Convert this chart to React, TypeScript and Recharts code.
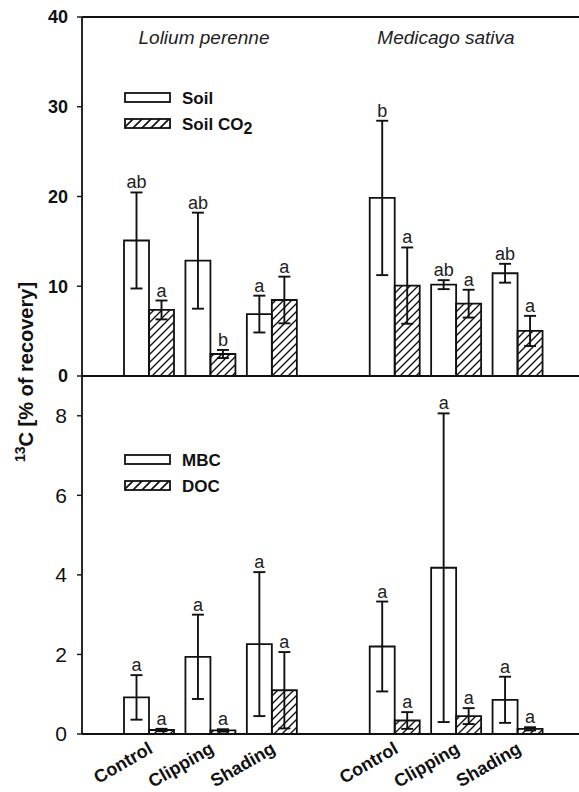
import React from "react";
import { BarChart, Bar, XAxis, YAxis, ErrorBar, LabelList, ReferenceLine, Legend } from "recharts";

const FONT = "'Liberation Sans', Arial, sans-serif";

// categories (empty slot separates the two species)
const treatments = ["Control", "Clipping", "Shading", "", "Control", "Clipping", "Shading"];

// upper panel
const soil = [15.1, 12.85, 6.9, null, 19.84, 10.18, 11.45];
const soilErr = [5.35, 5.35, 2.05, null, 8.6, 0.5, 1.05];
const soilLbl = ["ab", "ab", "a", "", "b", "ab", "ab"];
const co2 = [7.36, 2.45, 8.47, null, 10.07, 8.06, 5.02];
const co2Err = [1.05, 0.45, 2.6, null, 4.25, 1.55, 1.68];
const co2Lbl = ["a", "b", "a", "", "a", "a", "a"];

// lower panel
const mbc = [0.92, 1.94, 2.26, null, 2.2, 4.18, 0.86];
const mbcErr = [0.56, 1.06, 1.81, null, 1.13, 3.88, 0.58];
const mbcLbl = ["a", "a", "a", "", "a", "a", "a"];
const doc = [0.1, 0.09, 1.1, null, 0.34, 0.45, 0.13];
const docErr = [0.03, 0.03, 0.96, null, 0.21, 0.2, 0.04];
const docLbl = ["a", "a", "a", "", "a", "a", "a"];

const topTicks = [0, 10, 20, 30, 40];
const bottomTicks = [0, 2, 4, 6, 8];

const topData = treatments.map((name, i) => ({
  name,
  soil: soil[i],
  soilErr: soilErr[i],
  soilLbl: soilLbl[i],
  co2: co2[i],
  co2Err: co2Err[i],
  co2Lbl: co2Lbl[i],
}));

const bottomData = treatments.map((name, i) => ({
  name,
  mbc: mbc[i],
  mbcErr: mbcErr[i],
  mbcLbl: mbcLbl[i],
  doc: doc[i],
  docErr: docErr[i],
  docLbl: docLbl[i],
}));

// label key packs letter|error|value so the content can place it above the error cap
const lblKey = (k: string) => (d: any) => (d[k] == null ? "" : `${d[k + "Lbl"]}|${d[k + "Err"]}|${d[k]}`);

const SigLabel = (p: any) => {
  if (!p.value) return null;
  const [t, es, vs] = String(p.value).split("|");
  const e = Number(es), v = Number(vs);
  if (!t || !v) return null;
  const vb = p.viewBox && p.viewBox.height != null ? p.viewBox : p;
  const x = Number(vb.x), y = Number(vb.y), w = Number(vb.width), h = Number(vb.height);
  const top = y - (e * h) / v;
  return (
    <text x={x + w / 2} y={top - 4} textAnchor="middle" fontFamily={FONT} fontSize={18} fill="#222">
      {t}
    </text>
  );
};

const XTick = ({ x, y, payload }: any) => {
  if (!payload || !payload.value) return null;
  return (
    <text
      transform={`translate(${x + 5},${y + 16}) rotate(-30)`}
      textAnchor="end"
      fontFamily={FONT}
      fontWeight="bold"
      fontSize={18}
      fill="#111"
    >
      {payload.value}
    </text>
  );
};

const LegendBox = ({ names, sub }: { names: string[]; sub?: boolean }) => (
  <svg width={170} height={44} style={{ display: "block", overflow: "visible" }}>
    <defs>
      <pattern id={"lh" + names[0]} patternUnits="userSpaceOnUse" width={9} height={9}>
        <path d="M0,9 L9,0 M-3,3 L3,-3 M6,12 L12,6" stroke="#111" strokeWidth={1.7} />
      </pattern>
    </defs>
    <rect x={1} y={1} width={45} height={9} fill="#fff" stroke="#111" strokeWidth={1.8} />
    <text x={58} y={12} fontFamily={FONT} fontWeight="bold" fontSize={17} fill="#111">
      {names[0]}
    </text>
    <rect x={1} y={27} width={45} height={9} fill={`url(#lh${names[0]})`} stroke="#111" strokeWidth={1.8} />
    <text x={58} y={38} fontFamily={FONT} fontWeight="bold" fontSize={17} fill="#111">
      {names[1]}
      {sub && (
        <tspan fontSize={16} dy={4}>
          2
        </tspan>
      )}
    </text>
  </svg>
);

const Hatch = ({ id }: { id: string }) => (
  <defs>
    <pattern id={id} patternUnits="userSpaceOnUse" width={8} height={8}>
      <path d="M0,8 L8,0 M-2,2 L2,-2 M6,10 L10,6" stroke="#111" strokeWidth={1.4} />
    </pattern>
  </defs>
);

const barStroke = { stroke: "#111", strokeWidth: 1.8 };
const errStyle = { stroke: "#111", strokeWidth: 1.9 };
const axisStyle = { stroke: "#111", strokeWidth: 1.8 };
const xPad = { left: 36, right: 31 };

export default function App() {
  return (
    <div style={{ position: "absolute", left: 0, top: 0, width: 579, height: 792, background: "#fff" }}>
      <svg width={579} height={792} style={{ position: "absolute", left: 0, top: 0 }}>
        <text
          transform="translate(33,372) rotate(-90)"
          textAnchor="middle"
          fontFamily={FONT}
          fontWeight="bold"
          fontSize={20}
          fill="#111"
        >
          <tspan fontSize={14} dy={-8}>
            13
          </tspan>
          <tspan dy={8}>C [% of recovery]</tspan>
        </text>
        <text x={204} y={44} textAnchor="middle" fontFamily={FONT} fontStyle="italic" fontSize={19} fill="#222">
          Lolium perenne
        </text>
        <text x={446} y={44} textAnchor="middle" fontFamily={FONT} fontStyle="italic" fontSize={19} fill="#222">
          Medicago sativa
        </text>
      </svg>

      <div style={{ position: "absolute", left: 0, top: 0 }}>
        <BarChart width={579} height={395} data={topData} margin={{ top: 17, right: 0, left: 0, bottom: 18 }} barGap={0} barSize={25}>
          <Hatch id="hatchTop" />
          <XAxis dataKey="name" height={1} tick={false} tickLine={false} axisLine={axisStyle} padding={xPad} />
          <YAxis
            width={82}
            domain={[0, 40]}
            ticks={topTicks}
            interval={0}
            tickSize={5}
            tickMargin={9}
            axisLine={axisStyle}
            tickLine={{ stroke: "#111", strokeWidth: 1.4 }}
            tick={{ fontFamily: FONT, fontWeight: "bold", fontSize: 18, fill: "#111" }}
          />
          <ReferenceLine y={40} stroke="#111" strokeWidth={1.8} />
          <Legend
            layout="horizontal"
            verticalAlign="middle"
            align="center"
            content={() => <LegendBox names={["Soil", "Soil CO"]} sub />}
            wrapperStyle={{ position: "absolute", left: 124, top: 92, width: 170 }}
          />
          <Bar dataKey="soil" fill="#fff" {...barStroke} isAnimationActive={false}>
            <ErrorBar dataKey="soilErr" width={6} {...errStyle} isAnimationActive={false} />
            <LabelList dataKey={lblKey("soil")} content={SigLabel} />
          </Bar>
          <Bar dataKey="co2" fill="url(#hatchTop)" {...barStroke} isAnimationActive={false}>
            <ErrorBar dataKey="co2Err" width={6} {...errStyle} isAnimationActive={false} />
            <LabelList dataKey={lblKey("co2")} content={SigLabel} />
          </Bar>
        </BarChart>
      </div>

      <div style={{ position: "absolute", left: 0, top: 0 }}>
        <BarChart width={579} height={792} data={bottomData} margin={{ top: 376, right: 0, left: 0, bottom: 0 }} barGap={0} barSize={25}>
          <Hatch id="hatchBottom" />
          <XAxis
            dataKey="name"
            height={58}
            interval={0}
            tick={<XTick />}
            tickLine={false}
            tickSize={0}
            axisLine={axisStyle}
            padding={xPad}
          />
          <YAxis
            width={82}
            domain={[0, 9]}
            ticks={bottomTicks}
            interval={0}
            tickSize={5}
            tickMargin={10}
            axisLine={axisStyle}
            tickLine={{ stroke: "#111", strokeWidth: 1.4 }}
            tick={{ fontFamily: FONT, fontSize: 21, fill: "#111" }}
          />
          <Legend
            layout="horizontal"
            verticalAlign="middle"
            align="center"
            content={() => <LegendBox names={["MBC", "DOC"]} />}
            wrapperStyle={{ position: "absolute", left: 124, top: 454, width: 170 }}
          />
          <Bar dataKey="mbc" fill="#fff" {...barStroke} isAnimationActive={false}>
            <ErrorBar dataKey="mbcErr" width={6} {...errStyle} isAnimationActive={false} />
            <LabelList dataKey={lblKey("mbc")} content={SigLabel} />
          </Bar>
          <Bar dataKey="doc" fill="url(#hatchBottom)" {...barStroke} isAnimationActive={false}>
            <ErrorBar dataKey="docErr" width={6} {...errStyle} isAnimationActive={false} />
            <LabelList dataKey={lblKey("doc")} content={SigLabel} />
          </Bar>
        </BarChart>
      </div>
    </div>
  );
}
